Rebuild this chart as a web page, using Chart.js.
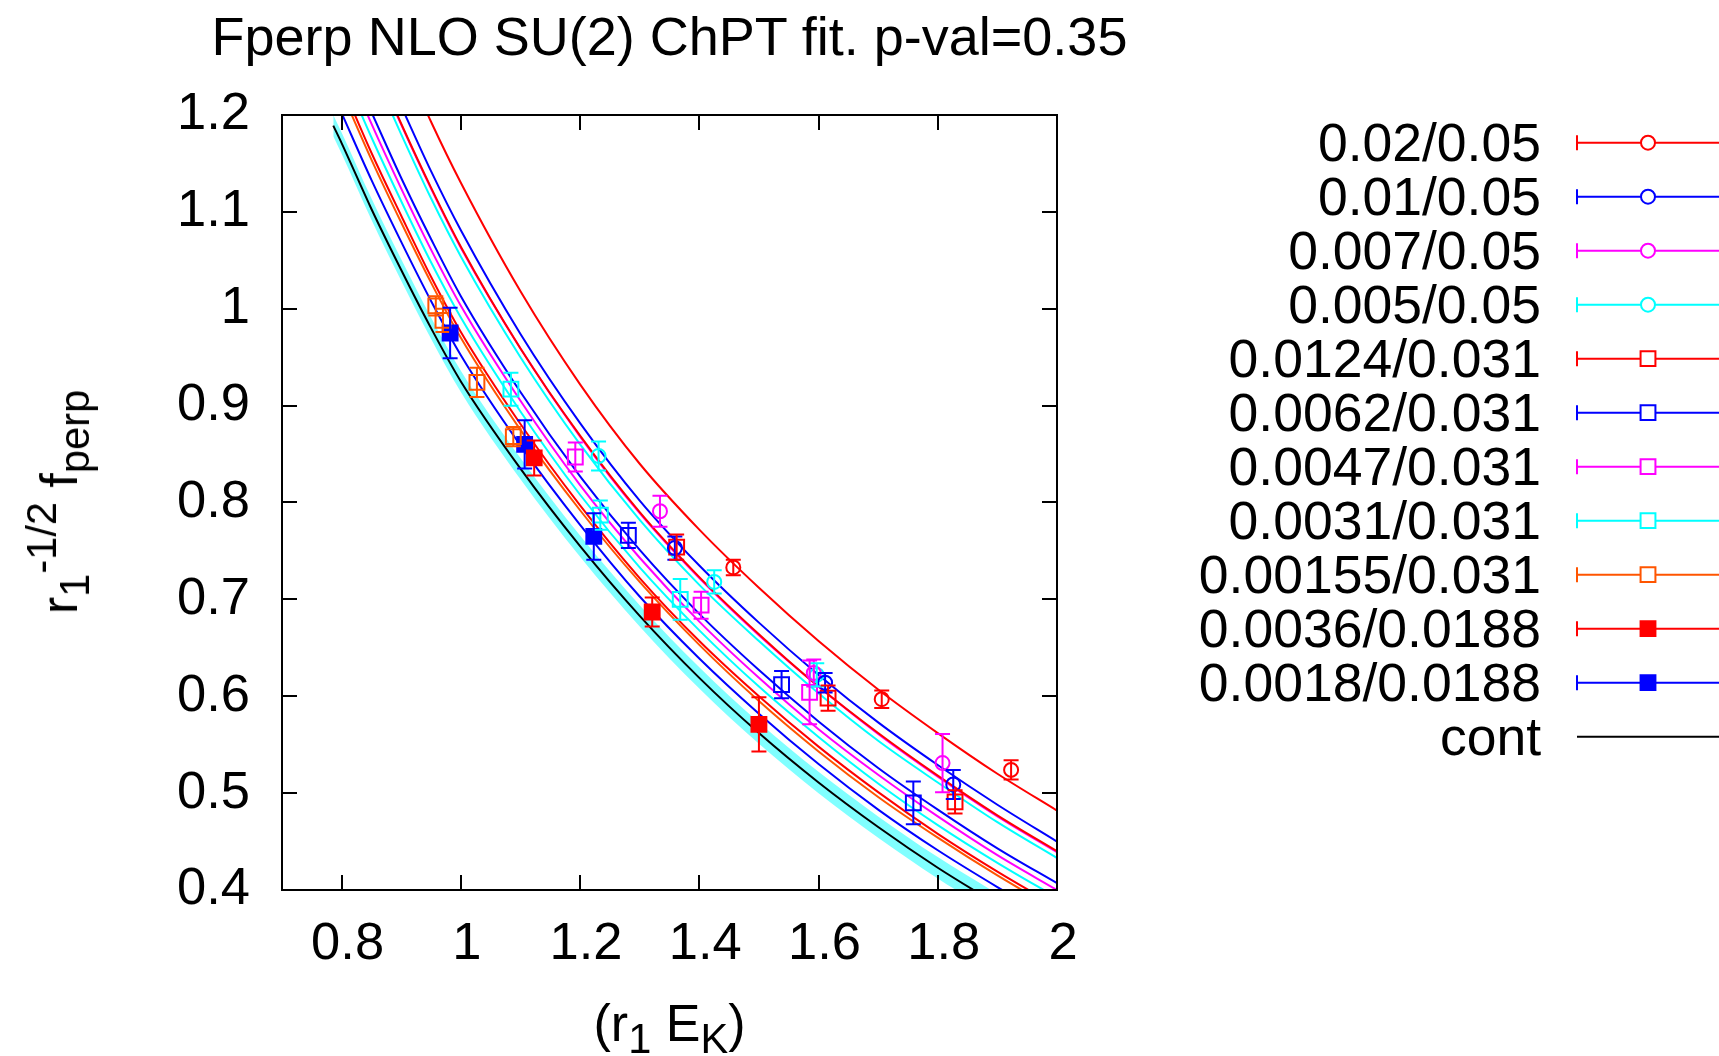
<!DOCTYPE html>
<html>
<head>
<meta charset="utf-8">
<title>Fperp NLO SU(2) ChPT fit</title>
<script src="https://cdn.jsdelivr.net/npm/chart.js@4.4.1/dist/chart.umd.min.js"></script>
<style>
  html, body { margin: 0; padding: 0; background: #fff; }
  #wrap {
    position: relative; width: 1719px; height: 1056px; overflow: hidden;
    font-family: "Liberation Sans", Arial, Helvetica, sans-serif; color: #000;
  }
  #chart { position: absolute; left: 0; top: 0; }
  .txt { position: absolute; white-space: nowrap; font-size: 52px; line-height: 60px; }
  .sub { position: relative; top: 0.3em; font-size: 0.8em; }
  .sup { position: relative; top: -0.5em; font-size: 0.8em; }
  #title { left: 0; width: 1339px; top: 6px; text-align: center; font-size: 54px; }
  #xlabel { left: 0; width: 1339px; top: 993px; text-align: center; }
  #ylabel { left: 61px; top: 502px; transform: translate(-50%, -50%) rotate(-90deg); }
  .key { right: 178px; text-align: right; font-size: 53.5px; }
</style>
</head>
<body>
<div id="wrap">
  <canvas id="chart" width="1719" height="1056"></canvas>
  <div class="txt" id="title">Fperp NLO SU(2) ChPT fit. p-val=0.35</div>
  <div class="txt" id="xlabel">(r<span class="sub">1</span> E<span class="sub">K</span>)</div>
  <div class="txt" id="ylabel">r<span class="sub">1</span><span class="sup">-1/2</span> f<span class="sub">perp</span></div>
</div>
<script>
"use strict";

// axes
const xTicks = [0.8, 1.0, 1.2, 1.4, 1.6, 1.8, 2.0];
const xTickLabels = ["0.8", "1", "1.2", "1.4", "1.6", "1.8", "2"];
const yTicks = [0.4, 0.5, 0.6, 0.7, 0.8, 0.9, 1.0, 1.1, 1.2];
const yTickLabels = ["0.4", "0.5", "0.6", "0.7", "0.8", "0.9", "1", "1.1", "1.2"];

// one entry per ensemble (ml/mh), same order as the key
const seriesLabels = [
  "0.02/0.05", "0.01/0.05", "0.007/0.05", "0.005/0.05",
  "0.0124/0.031", "0.0062/0.031", "0.0047/0.031", "0.0031/0.031", "0.00155/0.031",
  "0.0036/0.0188", "0.0018/0.0188"
];
const seriesColors = [
  "#ff0000", "#0000ff", "#ff00ff", "#00ffff",
  "#ff0000", "#0000ff", "#ff00ff", "#00ffff", "#ff5500",
  "#ff0000", "#0000ff"
];
const markerStyles = [
  "circle", "circle", "circle", "circle",
  "rect", "rect", "rect", "rect", "rect",
  "rect", "rect"
];
const markerFilled = [
  false, false, false, false,
  false, false, false, false, false,
  true, true
];

// lattice points (x, y, error) per ensemble
const pointX = [
  [1.457, 1.706, 1.923],
  [1.359, 1.611, 1.826],
  [1.334, 1.592, 1.808],
  [1.231, 1.425, 1.597],
  [1.362, 1.616, 1.829],
  [1.281, 1.538, 1.759],
  [1.192, 1.403, 1.585],
  [1.084, 1.234, 1.368],
  [0.958, 0.970, 1.027, 1.088],
  [1.123, 1.321, 1.500],
  [0.982, 1.107, 1.223]
];
const pointY = [
  [0.733, 0.597, 0.524],
  [0.753, 0.614, 0.509],
  [0.791, 0.624, 0.531],
  [0.848, 0.718, 0.622],
  [0.754, 0.598, 0.491],
  [0.766, 0.612, 0.490],
  [0.847, 0.694, 0.604],
  [0.917, 0.787, 0.700],
  [1.003, 0.988, 0.924, 0.868],
  [0.846, 0.687, 0.571],
  [0.975, 0.860, 0.765]
];
const pointErr = [
  [0.008, 0.009, 0.010],
  [0.012, 0.010, 0.015],
  [0.016, 0.014, 0.030],
  [0.015, 0.012, 0.012],
  [0.013, 0.013, 0.012],
  [0.013, 0.014, 0.022],
  [0.015, 0.014, 0.033],
  [0.017, 0.015, 0.021],
  [0.010, 0.012, 0.015, 0.010],
  [0.018, 0.015, 0.028],
  [0.026, 0.025, 0.024]
];

// fit curves read on a common x grid (null = above the frame)
const fitX = [0.8, 0.85, 0.9, 0.95, 1.0, 1.1, 1.2, 1.3, 1.4, 1.5, 1.6, 1.7, 1.8, 1.9, 2.0];
const fitY = [
  [null, null, 1.262, 1.193, 1.130, 1.018, 0.922, 0.840, 0.772, 0.712, 0.657, 0.607, 0.562, 0.520, 0.482],
  [null, null, 1.209, 1.142, 1.081, 0.974, 0.882, 0.802, 0.735, 0.676, 0.622, 0.573, 0.529, 0.488, 0.450],
  [null, 1.260, 1.190, 1.124, 1.063, 0.959, 0.868, 0.789, 0.722, 0.663, 0.610, 0.561, 0.517, 0.476, 0.439],
  [null, 1.249, 1.180, 1.114, 1.054, 0.950, 0.860, 0.782, 0.715, 0.657, 0.603, 0.554, 0.511, 0.470, 0.433],
  [null, 1.261, 1.191, 1.125, 1.064, 0.959, 0.869, 0.790, 0.723, 0.664, 0.610, 0.562, 0.518, 0.477, 0.440],
  [null, 1.203, 1.135, 1.072, 1.013, 0.914, 0.827, 0.751, 0.685, 0.627, 0.574, 0.526, 0.483, 0.443, 0.407],
  [1.263, 1.191, 1.124, 1.061, 1.003, 0.905, 0.818, 0.743, 0.677, 0.619, 0.566, 0.519, 0.476, 0.436, 0.400],
  [1.248, 1.177, 1.111, 1.048, 0.991, 0.894, 0.808, 0.733, 0.668, 0.610, 0.558, 0.510, 0.467, 0.428, 0.392],
  [1.224, 1.154, 1.089, 1.027, 0.970, 0.875, 0.792, 0.718, 0.653, 0.595, 0.543, 0.496, 0.454, 0.415, 0.379],
  [1.232, 1.161, 1.096, 1.033, 0.976, 0.881, 0.797, 0.722, 0.657, 0.600, 0.548, 0.501, 0.458, 0.419, 0.383],
  [1.202, 1.133, 1.069, 1.008, 0.952, 0.859, 0.777, 0.703, 0.639, 0.582, 0.530, 0.483, 0.441, 0.403, 0.367]
];

// continuum curve and its error band
const contLabel = "cont";
const contX = [0.786, 0.8, 0.85, 0.9, 0.95, 1.0, 1.1, 1.2, 1.3, 1.4, 1.5, 1.6, 1.7, 1.8, 1.9];
const contY = [1.189, 1.171, 1.103, 1.040, 0.980, 0.925, 0.835, 0.755, 0.683, 0.619, 0.562, 0.511, 0.465, 0.423, 0.385];
const contUpper = [1.200, 1.182, 1.114, 1.051, 0.991, 0.936, 0.846, 0.766, 0.694, 0.630, 0.573, 0.522, 0.476, 0.434, 0.396];
const contLower = [1.178, 1.160, 1.092, 1.029, 0.969, 0.914, 0.824, 0.744, 0.672, 0.608, 0.551, 0.500, 0.454, 0.412, 0.374];

// look
const FONT = "'Liberation Sans', Arial, Helvetica, sans-serif";
const BAND_COLOR = "rgb(128, 255, 255)";
const CIRCLE_R = 7;
const RECT_R = 10.5;
const CAP = 7.5;
const TICK_LEN = 15;
const KEY_Y0 = 142.7;
const KEY_DY = 54;
const KEY_LINE_X0 = 1577;
const KEY_LINE_X1 = 1719;
const KEY_MARK_X = 1648;

function toPoints(xs, ys) {
  const out = [];
  xs.forEach((x, i) => {
    if (ys[i] !== null) out.push({ x: x, y: ys[i] });
  });
  return out;
}

function drawMarker(ctx, style, filled, color, x, y, bg) {
  ctx.beginPath();
  if (style === "circle") {
    ctx.arc(x, y, CIRCLE_R, 0, Math.PI * 2);
  } else {
    const h = RECT_R * Math.SQRT1_2;
    ctx.rect(x - h, y - h, 2 * h, 2 * h);
  }
  if (filled || bg) {
    ctx.fillStyle = filled ? color : bg;
    ctx.fill();
  }
  ctx.lineWidth = 2;
  ctx.strokeStyle = color;
  ctx.stroke();
}

// vertical error bars with caps, drawn from the dataset's errors array
const errorBarPlugin = {
  id: "errorBars",
  afterDatasetsDraw(chart) {
    const ctx = chart.ctx;
    const xs = chart.scales.x;
    const ys = chart.scales.y;
    const area = chart.chartArea;
    ctx.save();
    ctx.beginPath();
    ctx.rect(area.left, area.top, area.right - area.left, area.bottom - area.top);
    ctx.clip();
    ctx.lineWidth = 2;
    chart.data.datasets.forEach((ds) => {
      if (!ds.errors) return;
      ctx.strokeStyle = ds.pointBorderColor;
      ds.data.forEach((p, i) => {
        const px = xs.getPixelForValue(p.x);
        const top = ys.getPixelForValue(p.y + ds.errors[i]);
        const bot = ys.getPixelForValue(p.y - ds.errors[i]);
        ctx.beginPath();
        ctx.moveTo(px, top);
        ctx.lineTo(px, bot);
        ctx.moveTo(px - CAP, top);
        ctx.lineTo(px + CAP, top);
        ctx.moveTo(px - CAP, bot);
        ctx.lineTo(px + CAP, bot);
        ctx.stroke();
      });
    });
    ctx.restore();
  }
};

// gnuplot style border with inward ticks on all four sides
const framePlugin = {
  id: "frame",
  afterDatasetsDraw(chart) {
    const ctx = chart.ctx;
    const a = chart.chartArea;
    const xs = chart.scales.x;
    const ys = chart.scales.y;
    ctx.save();
    ctx.strokeStyle = "#000";
    ctx.lineWidth = 2;
    ctx.beginPath();
    xTicks.forEach((v) => {
      const px = Math.round(xs.getPixelForValue(v));
      ctx.moveTo(px, a.bottom);
      ctx.lineTo(px, a.bottom - TICK_LEN);
      ctx.moveTo(px, a.top);
      ctx.lineTo(px, a.top + TICK_LEN);
    });
    yTicks.forEach((v) => {
      const py = Math.round(ys.getPixelForValue(v));
      ctx.moveTo(a.left, py);
      ctx.lineTo(a.left + TICK_LEN, py);
      ctx.moveTo(a.right, py);
      ctx.lineTo(a.right - TICK_LEN, py);
    });
    ctx.stroke();
    ctx.strokeRect(a.left, a.top, a.right - a.left, a.bottom - a.top);
    ctx.restore();
  }
};

// key samples (line, left cap, marker); key text is html
const keyPlugin = {
  id: "keySamples",
  afterDraw(chart) {
    const ctx = chart.ctx;
    ctx.save();
    seriesLabels.forEach((label, i) => {
      const y = KEY_Y0 + i * KEY_DY;
      const c = seriesColors[i];
      ctx.strokeStyle = c;
      ctx.lineWidth = 2;
      ctx.beginPath();
      ctx.moveTo(KEY_LINE_X0, y);
      ctx.lineTo(KEY_LINE_X1, y);
      ctx.moveTo(KEY_LINE_X0, y - CAP);
      ctx.lineTo(KEY_LINE_X0, y + CAP);
      ctx.stroke();
      drawMarker(ctx, markerStyles[i], markerFilled[i], c, KEY_MARK_X, y, "#fff");
    });
    const yc = KEY_Y0 + seriesLabels.length * KEY_DY;
    ctx.strokeStyle = "#000";
    ctx.lineWidth = 2;
    ctx.beginPath();
    ctx.moveTo(KEY_LINE_X0, yc);
    ctx.lineTo(KEY_LINE_X1, yc);
    ctx.stroke();
    ctx.restore();
  }
};

function buildKeyText() {
  const wrap = document.getElementById("wrap");
  seriesLabels.concat([contLabel]).forEach((label, i) => {
    const div = document.createElement("div");
    div.className = "txt key";
    div.style.top = (KEY_Y0 + i * KEY_DY - 29.5) + "px";
    div.textContent = label;
    wrap.appendChild(div);
  });
}

function buildDatasets() {
  const sets = [];

  // error band of the continuum curve
  sets.push({
    data: toPoints(contX, contUpper),
    borderColor: "transparent", borderWidth: 0, pointRadius: 0,
    fill: false, cubicInterpolationMode: "monotone", clip: 0, order: 40
  });
  sets.push({
    data: toPoints(contX, contLower),
    borderColor: "transparent", borderWidth: 0, pointRadius: 0,
    fill: "-1", backgroundColor: BAND_COLOR,
    cubicInterpolationMode: "monotone", clip: 0, order: 40
  });

  // fits, later ones on top like gnuplot
  fitY.forEach((ys, i) => {
    sets.push({
      data: toPoints(fitX, ys),
      borderColor: seriesColors[i], borderWidth: 2, pointRadius: 0,
      fill: false, cubicInterpolationMode: "monotone", clip: 0, order: 30 - i
    });
  });

  sets.push({
    data: toPoints(contX, contY),
    borderColor: "#000", borderWidth: 2, pointRadius: 0,
    fill: false, cubicInterpolationMode: "monotone", clip: 0, order: 5
  });

  // data points
  pointX.forEach((xs, i) => {
    sets.push({
      data: toPoints(xs, pointY[i]),
      errors: pointErr[i],
      showLine: false,
      pointStyle: markerStyles[i],
      pointRadius: markerStyles[i] === "circle" ? CIRCLE_R : RECT_R,
      pointBorderWidth: 2,
      pointBorderColor: seriesColors[i],
      pointBackgroundColor: markerFilled[i] ? seriesColors[i] : "rgba(0,0,0,0)",
      borderColor: seriesColors[i],
      order: 0
    });
  });
  return sets;
}

function renderChart() {
  const ctx = document.getElementById("chart").getContext("2d");
  new Chart(ctx, {
    type: "line",
    data: { datasets: buildDatasets() },
    options: {
      responsive: false,
      animation: false,
      devicePixelRatio: 1,
      events: [],
      layout: { padding: { top: 115, right: 662, bottom: 0, left: 0 } },
      plugins: { legend: { display: false }, tooltip: { enabled: false }, title: { display: false } },
      scales: {
        x: {
          type: "linear", min: 0.7, max: 2.0,
          afterBuildTicks: (scale) => { scale.ticks = xTicks.map((v) => ({ value: v })); },
          afterFit: (scale) => { scale.height = 166; },
          grid: { display: false, drawTicks: false },
          border: { display: false },
          ticks: {
            autoSkip: false, maxRotation: 0, padding: 23, labelOffset: 6,
            color: "#000", font: { family: FONT, size: 52.5 },
            callback: (v, i) => xTickLabels[i]
          }
        },
        y: {
          type: "linear", min: 0.4, max: 1.2,
          afterBuildTicks: (scale) => { scale.ticks = yTicks.map((v) => ({ value: v })); },
          afterFit: (scale) => { scale.width = 282; },
          grid: { display: false, drawTicks: false },
          border: { display: false },
          ticks: {
            autoSkip: false, padding: 32,
            color: "#000", font: { family: FONT, size: 52.5 },
            callback: (v, i) => yTickLabels[i]
          }
        }
      }
    },
    plugins: [errorBarPlugin, framePlugin, keyPlugin]
  });
}

buildKeyText();
renderChart();
</script>
</body>
</html>
